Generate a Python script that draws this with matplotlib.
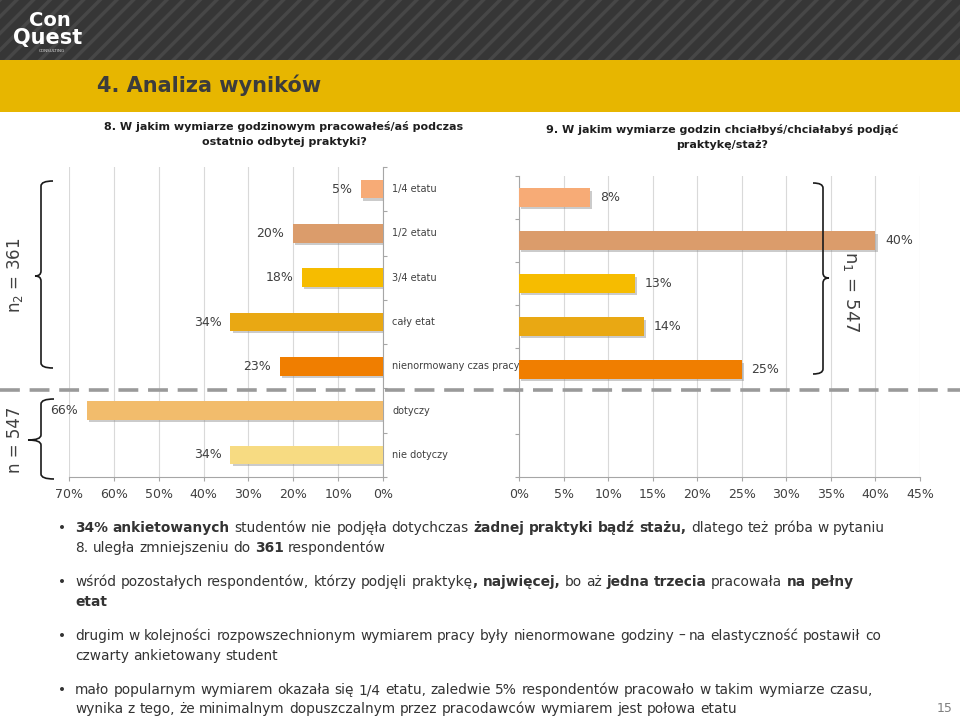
import re
import numpy as np
import matplotlib
matplotlib.use('Agg')
import matplotlib.pyplot as plt
from matplotlib.patches import Rectangle, PathPatch
from matplotlib.path import Path
from matplotlib.lines import Line2D
from matplotlib.transforms import Affine2D
import matplotlib.patheffects as pe

W, H = 960, 717

# dane - pytanie 8 (lewy wykres) i pytanie 9 (prawy wykres)
kategorie = ['1/4 etatu', '1/2 etatu', '3/4 etatu', 'cały etat',
             'nienormowany czas pracy', 'dotyczy', 'nie dotyczy']
wartosci_8 = [5, 20, 18, 34, 23, 66, 34]
kolory_8 = ['#F7AB76', '#DB9C6B', '#F6BC00', '#E9A813', '#F07E00', '#F2BC6C', '#F7DB82']
wartosci_9 = [8, 40, 13, 14, 25]
kolory_9 = ['#F7AB76', '#DB9C6B', '#F6BC00', '#E9A813', '#F07E00']
ticki_lewe = [0, 10, 20, 30, 40, 50, 60, 70]
ticki_prawe = [0, 5, 10, 15, 20, 25, 30, 35, 40, 45]

tytul = '4. Analiza wyników'
pytanie_8 = '8. W jakim wymiarze godzinowym pracowałeś/aś podczas\nostatnio odbytej praktyki?'
pytanie_9 = '9. W jakim wymiarze godzin chciałbyś/chciałabyś podjąć\npraktykę/staż?'

punkty = [
    ['**34% ankietowanych** studentów nie podjęła dotychczas **żadnej praktyki bądź stażu,** dlatego też próba w pytaniu',
     '8. uległa zmniejszeniu do **361** respondentów'],
    ['wśród pozostałych respondentów, którzy podjęli praktykę**, najwięcej,** bo aż **jedna trzecia** pracowała **na pełny**',
     '**etat**'],
    ['drugim w kolejności rozpowszechnionym wymiarem pracy były nienormowane godziny – na elastyczność postawił co',
     'czwarty ankietowany student'],
    ['mało popularnym wymiarem okazała się 1/4 etatu, zaledwie 5% respondentów pracowało w takim wymiarze czasu,',
     'wynika z tego, że minimalnym dopuszczalnym przez pracodawców wymiarem jest połowa etatu'],
]
linie_y = [[532, 552], [586, 606], [640, 660], [694, 713]]

plt.rcParams['hatch.linewidth'] = 2.5
plt.rcParams['font.family'] = ['DejaVu Sans']

fig = plt.figure(figsize=(W / 100, H / 100), dpi=100)
px = Affine2D().scale(1 / W, -1 / H).translate(0, 1) + fig.transFigure

# naglowek
fig.patches.append(Rectangle((0, 0), W, 60, transform=px, facecolor='#363636',
                             edgecolor='#474747', hatch='//', lw=0, zorder=0))
fig.patches.append(Rectangle((0, 60), W, 52, transform=px, facecolor='#E7B600',
                             lw=0, zorder=0))
fig.text(50, 20, 'Con', transform=px, fontsize=14, weight='bold', color='white',
         ha='center', va='center')
fig.text(48, 38, 'Quest', transform=px, fontsize=15, weight='bold', color='white',
         ha='center', va='center')
fig.text(52, 51, 'CONSULTING', transform=px, fontsize=3, color='#dddddd',
         ha='center', va='center')
fig.text(97, 85, tytul, transform=px, fontsize=15, weight='bold', color='#3C3C3C',
         va='center')
fig.text(284, 134, pytanie_8, transform=px, fontsize=8, weight='bold', color='#1E1E1E',
         ha='center', va='center', linespacing=1.65)
fig.text(722, 137, pytanie_9, transform=px, fontsize=8, weight='bold', color='#1E1E1E',
         ha='center', va='center', linespacing=1.65)

szary = '#A6A6A6'
cien = [pe.SimplePatchShadow(offset=(1.5, -1.5), shadow_rgbFace='#8c8c8c', alpha=0.45),
        pe.Normal()]

# lewy wykres
axL = fig.add_axes([69 / W, 1 - 477 / H, 314 / W, 310 / H])
yL = np.arange(len(wartosci_8))
axL.barh(yL, wartosci_8, height=0.42, color=kolory_8, zorder=3, path_effects=cien)
axL.set_xlim(70, 0)
axL.set_ylim(len(yL) - 0.5, -0.5)
axL.set_xticks(ticki_lewe, [f'{t}%' for t in ticki_lewe])
axL.set_yticks(np.arange(-0.5, len(yL)), [])
axL.yaxis.tick_right()
for s in ['left', 'top']:
    axL.spines[s].set_visible(False)
for i, v in enumerate(wartosci_8):
    axL.annotate(f'{v}%', (v, i), xytext=(-6.5, 0), textcoords='offset points',
                 ha='right', va='center', fontsize=9, color='#404040')
    axL.annotate(kategorie[i], (0, i), xytext=(6.5, 0), textcoords='offset points',
                 ha='left', va='center', fontsize=7, color='#404040')

# prawy wykres
axR = fig.add_axes([519 / W, 1 - 477 / H, 401 / W, 301 / H])
yR = np.arange(len(wartosci_9))
axR.barh(yR, wartosci_9, height=0.42, color=kolory_9, zorder=3, path_effects=cien)
axR.set_xlim(0, 45)
axR.set_ylim(len(yL) - 0.5, -0.5)
axR.set_xticks(ticki_prawe, [f'{t}%' for t in ticki_prawe])
axR.set_yticks(np.arange(-0.5, len(yL)), [])
for s in ['right', 'top']:
    axR.spines[s].set_visible(False)
for i, v in enumerate(wartosci_9):
    axR.annotate(f'{v}%', (v, i), xytext=(7, 0), textcoords='offset points',
                 ha='left', va='center', fontsize=9, color='#404040')

for ax in (axL, axR):
    ax.set_facecolor('none')
    ax.grid(axis='x', color='#D9D9D9', lw=0.8)
    ax.set_axisbelow(True)
    for s in ax.spines.values():
        s.set_color(szary)
    ax.tick_params(colors=szary, labelcolor='#404040', labelsize=9, length=3, pad=5)

# przerywana linia
fig.lines.append(Line2D([0, W], [390, 390], transform=px, color='#9A9A9A', lw=2.6,
                        dashes=(5.5, 2.7), zorder=5))


def klamra(x, y0, y1, yt, serif, tip, r=5):
    d = 1 if serif > 0 else -1
    verts = [(x + serif, y0), (x, y0), (x, y0 + r),
             (x, yt - r), (x, yt), (x - tip * d, yt),
             (x, yt), (x, yt + r),
             (x, y1 - r), (x, y1), (x + serif, y1)]
    codes = [Path.MOVETO, Path.CURVE3, Path.CURVE3,
             Path.LINETO, Path.CURVE3, Path.CURVE3,
             Path.CURVE3, Path.CURVE3,
             Path.LINETO, Path.CURVE3, Path.CURVE3]
    fig.patches.append(PathPatch(Path(verts, codes), transform=px, fill=False,
                                 edgecolor='#1a1a1a', lw=1.2, zorder=6))


klamra(41, 181, 368, 276, 12, 6)
klamra(41, 399, 479, 440, 13, 13)
klamra(823, 183, 374, 278, -10, 6)

fig.text(15, 275, r'n$_2$ = 361', transform=px, rotation=90, fontsize=12,
         color='#404040', ha='center', va='center')
fig.text(15, 440, 'n = 547', transform=px, rotation=90, fontsize=12,
         color='#404040', ha='center', va='center')
fig.text(851, 292, r'n$_1$ = 547', transform=px, rotation=270, fontsize=13,
         color='#404040', ha='center', va='center')

# punkty z opisem
renderer = fig.canvas.get_renderer()
rozmiar = 9.9
kolor_tekstu = '#333333'


def szer(s, waga):
    if s.strip() == '':
        return 0.0
    t = fig.text(0, 0, s, fontsize=rozmiar, weight=waga)
    w = t.get_window_extent(renderer).width
    t.remove()
    return w


spacja = szer('n n', 'normal') - szer('nn', 'normal')


def linia(x, y, tekst):
    cur = x
    for k, czesc in enumerate(tekst.split('**')):
        if czesc == '':
            continue
        waga = 'bold' if k % 2 else 'normal'
        lead = len(czesc) - len(czesc.lstrip(' '))
        trail = len(czesc) - len(czesc.rstrip(' '))
        cur += lead * spacja
        s = czesc.strip(' ')
        # kazde slowo osobno, pozycja z szerokosci calego prefiksu
        for m in re.finditer(r'\S+', s):
            slowo = m.group()
            x0 = szer(s[:m.end()], waga) - szer(slowo, waga)
            fig.text(cur + x0, y, slowo, transform=px, fontsize=rozmiar, weight=waga,
                     color=kolor_tekstu, va='baseline')
        cur += szer(s, waga) + trail * spacja


for punkt, ys in zip(punkty, linie_y):
    fig.text(62, ys[0], '•', transform=px, fontsize=rozmiar, color=kolor_tekstu,
             va='baseline', ha='center')
    for tekst, y in zip(punkt, ys):
        linia(75, y, tekst)

fig.text(945, 708, '15', transform=px, fontsize=9, color='#7F7F7F', ha='center',
         va='center')

fig.savefig('out.png', dpi=100)
